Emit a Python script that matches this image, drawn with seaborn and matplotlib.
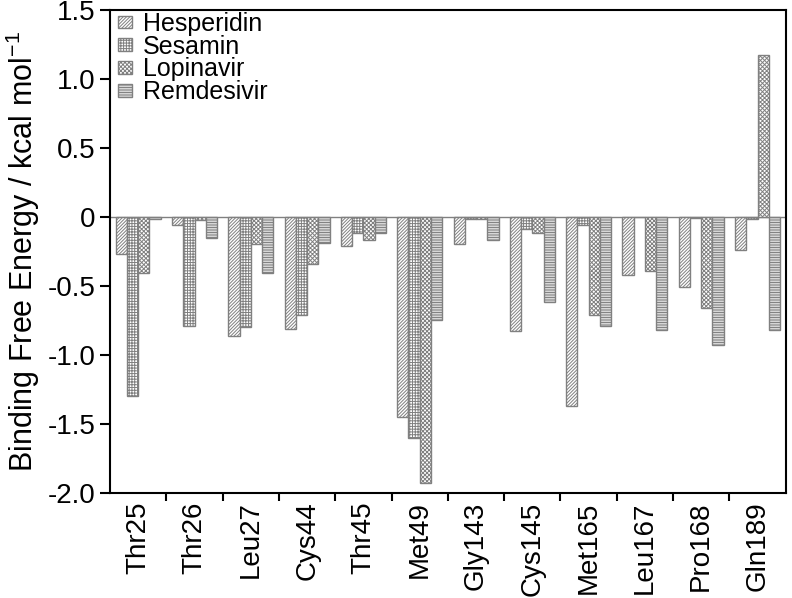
import pandas as pd
import numpy as np
import seaborn as sns
import matplotlib.pyplot as plt
from matplotlib.patches import Patch
from matplotlib.ticker import FixedLocator, FuncFormatter

# --- données ---
residues = ["Thr25", "Thr26", "Leu27", "Cys44", "Thr45", "Met49",
            "Gly143", "Cys145", "Met165", "Leu167", "Pro168", "Gln189"]
ligands = ["Hesperidin", "Sesamin", "Lopinavir", "Remdesivir"]

hesperidin = [-0.27, -0.06, -0.86, -0.81, -0.21, -1.45, -0.20, -0.83, -1.37, -0.42, -0.51, -0.24]
sesamin = [-1.30, -0.79, -0.80, -0.71, -0.12, -1.60, -0.02, -0.09, -0.06, -0.005, -0.01, -0.02]
lopinavir = [-0.41, -0.025, -0.20, -0.34, -0.17, -1.93, -0.02, -0.12, -0.71, -0.39, -0.66, 1.17]
remdesivir = [-0.02, -0.155, -0.41, -0.19, -0.12, -0.75, -0.17, -0.62, -0.79, -0.82, -0.93, -0.82]

hatches = ["//////////", "++++++", "xxxxxxxx", "----------"]
edge = "#808080"

df = pd.DataFrame({
    "Residue": residues * 4,
    "Ligand": np.repeat(ligands, len(residues)),
    "Energy": hesperidin + sesamin + lopinavir + remdesivir,
})

sns.set_style("ticks")
plt.rcParams["font.family"] = ["Liberation Sans", "DejaVu Sans"]
plt.rcParams["hatch.linewidth"] = 0.7
plt.rcParams["text.color"] = "black"
plt.rcParams["axes.labelcolor"] = "black"
plt.rcParams["xtick.color"] = "black"
plt.rcParams["ytick.color"] = "black"

fig = plt.figure(figsize=(7.92, 5.98), dpi=100)
ax = fig.add_axes([0.139, 0.1756, 0.853, 0.8085])

sns.barplot(data=df, x="Residue", y="Energy", hue="Ligand", order=residues,
            hue_order=ligands, palette=["white"] * 4, saturation=1,
            edgecolor=edge, linewidth=1, width=0.8, errorbar=None,
            legend=False, ax=ax)

for cont, h in zip(ax.containers, hatches):
    for bar in cont:
        bar.set_hatch(h)

ax.axhline(0, color=edge, lw=1, zorder=0)

# axes
ax.set_ylim(-2.0, 1.5)
ax.set_xlim(-0.5, len(residues) - 0.5)
ax.set_yticks(np.arange(-2.0, 1.51, 0.5))
ax.yaxis.set_major_formatter(FuncFormatter(lambda v, p: "0" if abs(v) < 1e-9 else f"{v:.1f}"))
ax.xaxis.set_minor_locator(FixedLocator(np.arange(0.5, len(residues) - 1, 1.0)))
ax.tick_params(axis="x", which="major", length=0, labelsize=20, rotation=90, pad=6)
ax.tick_params(axis="x", which="minor", length=6, width=1.5, direction="out")
ax.tick_params(axis="y", length=7, width=1.5, direction="out", labelsize=20)
for s in ax.spines.values():
    s.set_visible(True)
    s.set_linewidth(1.5)
    s.set_color("black")

ax.set_xlabel("")
ax.set_ylabel(r"Binding Free Energy / kcal mol$^{\mathregular{-1}}$", fontsize=22, labelpad=4)

handles = [Patch(facecolor="white", edgecolor=edge, hatch=h, label=l)
           for h, l in zip(hatches, ligands)]
ax.legend(handles=handles, loc="upper left", bbox_to_anchor=(0.012, 0.995),
          frameon=False, fontsize=18, handlelength=0.55, handleheight=0.42,
          handletextpad=0.45, labelspacing=-0.05, borderpad=0, borderaxespad=0)

fig.savefig("out.png", dpi=100)
